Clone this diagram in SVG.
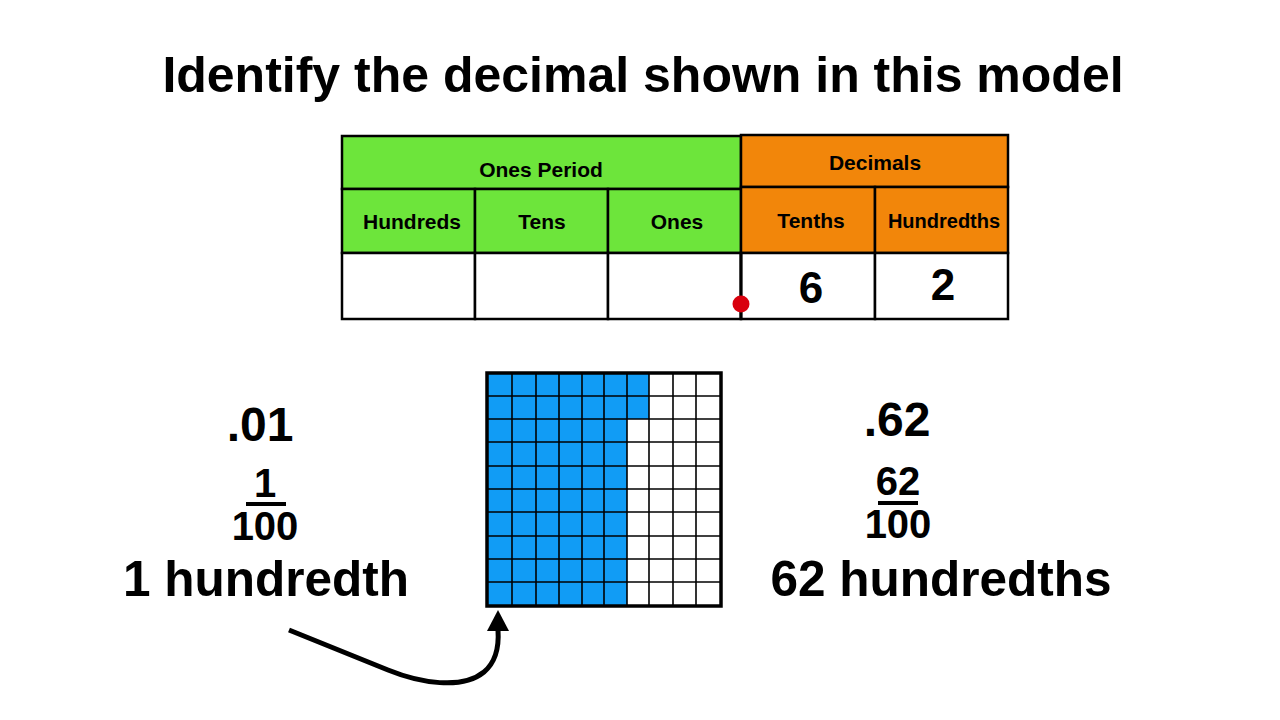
<svg xmlns="http://www.w3.org/2000/svg" width="1280" height="720" viewBox="0 0 1280 720">
<style>
text{font-family:"Liberation Sans",Arial,sans-serif;font-weight:bold;fill:#000;text-anchor:middle}
.g{fill:#6de53b;stroke:#000;stroke-width:2.5}
.o{fill:#f2860a;stroke:#000;stroke-width:2.5}
.w{fill:#fff;stroke:#000;stroke-width:2.5}
.hd{font-size:21px}
.big{font-size:48px}
.fr{font-size:40px}
.word{font-size:49.5px}
.cell{fill:#119cf5}
.gl{stroke:#000;stroke-width:1.6}
</style>
<rect width="1280" height="720" fill="#fff"/>
<g id="title"><text x="643" y="92" style="font-size:50px">Identify the decimal shown in this model</text></g>
<g id="table">
<rect class="g" x="342" y="136" width="399" height="53"/>
<rect class="o" x="741" y="135" width="267" height="52"/>
<rect class="g" x="342" y="189" width="133" height="64"/>
<rect class="g" x="475" y="189" width="133" height="64"/>
<rect class="g" x="608" y="189" width="133" height="64"/>
<rect class="o" x="741" y="187" width="134" height="66"/>
<rect class="o" x="875" y="187" width="133" height="66"/>
<rect class="w" x="342" y="253" width="133" height="66"/>
<rect class="w" x="475" y="253" width="133" height="66"/>
<rect class="w" x="608" y="253" width="133" height="66"/>
<rect class="w" x="741" y="253" width="134" height="66"/>
<rect class="w" x="875" y="253" width="133" height="66"/>
<line x1="741" y1="253" x2="741" y2="319" stroke="#000" stroke-width="3"/>
<text class="hd" x="541" y="177">Ones Period</text>
<text class="hd" x="875" y="170">Decimals</text>
<text class="hd" x="412" y="229">Hundreds</text>
<text class="hd" x="542" y="229">Tens</text>
<text class="hd" x="677" y="229">Ones</text>
<text class="hd" x="811" y="228">Tenths</text>
<text class="hd" x="944" y="228" style="font-size:20px">Hundredths</text>
<text x="811" y="303" style="font-size:44px">6</text>
<text x="943" y="300" style="font-size:44px">2</text>
<circle cx="741" cy="304" r="8.5" fill="#d9000d"/>
</g>
<g id="left-values">
<text class="big" x="260" y="441">.01</text>
<text class="fr" x="265" y="497">1</text>
<line x1="246" y1="504" x2="286" y2="504" stroke="#000" stroke-width="4"/>
<text class="fr" x="265" y="540">100</text>
<text class="word" x="266" y="596">1 hundredth</text>
</g>
<g id="right-values">
<text class="big" x="897" y="436">.62</text>
<text class="fr" x="898" y="495">62</text>
<line x1="878" y1="503" x2="918" y2="503" stroke="#000" stroke-width="4"/>
<text class="fr" x="898" y="538">100</text>
<text class="word" x="941" y="596">62 hundredths</text>
</g>
<g id="grid">
<rect x="487" y="373" width="234" height="233" fill="#fff"/>
<rect class="cell" x="487" y="373" width="162" height="46"/>
<rect class="cell" x="487" y="419" width="140" height="187"/>
<g class="gl">
<line x1="512" y1="373" x2="512" y2="606"/>
<line x1="536" y1="373" x2="536" y2="606"/>
<line x1="559" y1="373" x2="559" y2="606"/>
<line x1="582" y1="373" x2="582" y2="606"/>
<line x1="604" y1="373" x2="604" y2="606"/>
<line x1="627" y1="373" x2="627" y2="606"/>
<line x1="649" y1="373" x2="649" y2="606"/>
<line x1="673" y1="373" x2="673" y2="606"/>
<line x1="696" y1="373" x2="696" y2="606"/>
<line x1="487" y1="396" x2="721" y2="396"/>
<line x1="487" y1="419" x2="721" y2="419"/>
<line x1="487" y1="442" x2="721" y2="442"/>
<line x1="487" y1="466" x2="721" y2="466"/>
<line x1="487" y1="489" x2="721" y2="489"/>
<line x1="487" y1="512" x2="721" y2="512"/>
<line x1="487" y1="536" x2="721" y2="536"/>
<line x1="487" y1="559" x2="721" y2="559"/>
<line x1="487" y1="582" x2="721" y2="582"/>
</g>
<rect x="487" y="373" width="234" height="233" fill="none" stroke="#000" stroke-width="3.5"/>
</g>
<g id="connectors">
<path d="M289,630 L388,670 C420,683 462,690 484,672 C497,661 499,645 498,630" fill="none" stroke="#000" stroke-width="5"/>
<polygon points="487,631 509,631 498,610" fill="#000"/>
</g>
</svg>
